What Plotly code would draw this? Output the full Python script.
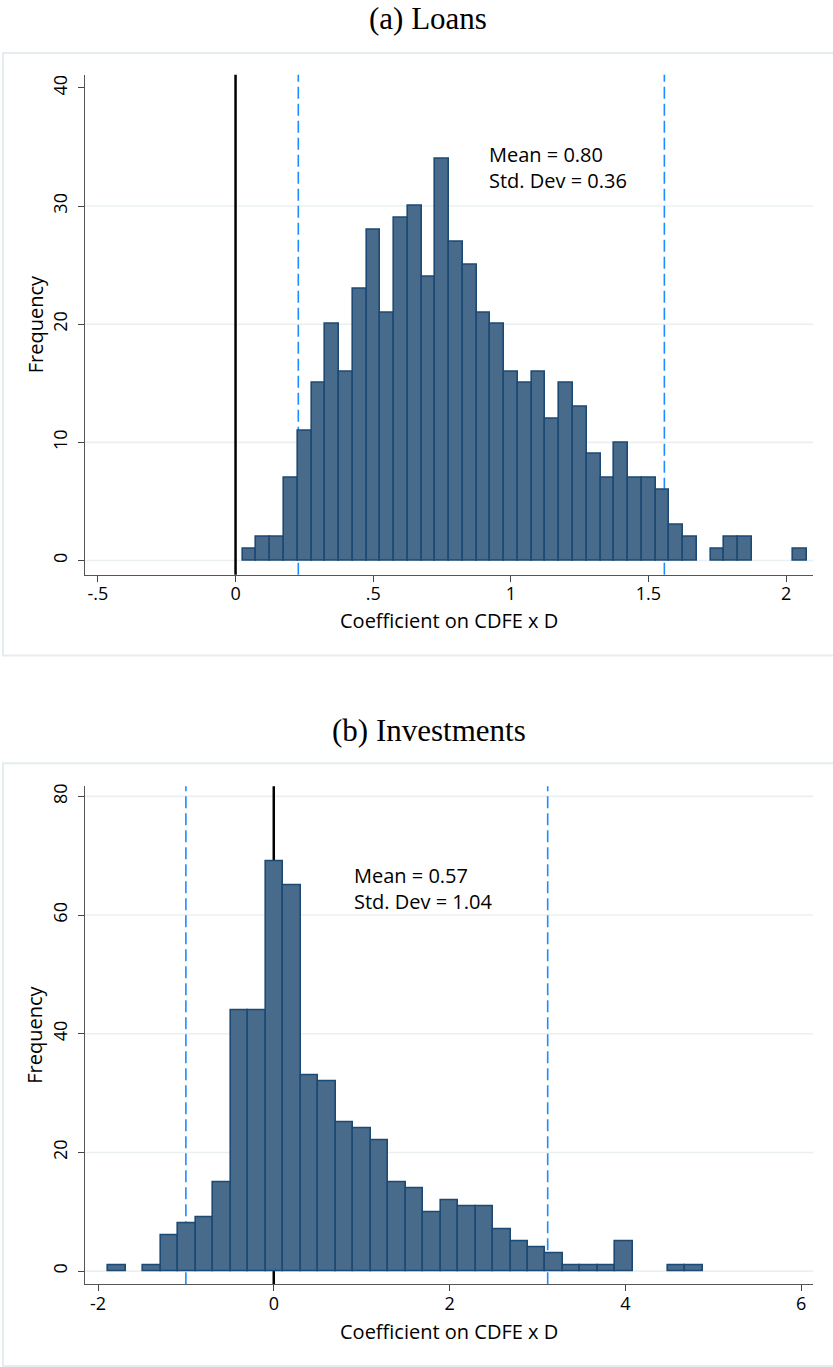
import numpy as np
import plotly.graph_objects as go

# ---- Panel (a): loans ----
loans_start = 0.026
loans_width = 0.05
loans_counts = [1, 2, 2, 7, 11, 15, 20, 16, 23, 28,
                21, 29, 30, 24, 34, 27, 25, 21, 20, 16,
                15, 16, 12, 15, 13, 9, 7, 10, 7, 7,
                6, 3, 2, 0, 1, 2, 2, 0, 0, 0, 1]
loans_lo, loans_hi = 0.228, 1.558
loans_mean, loans_sd = 0.80, 0.36
loans_xticks = [-0.5, 0, 0.5, 1, 1.5, 2]
loans_xlabels = ["-.5", "0", ".5", "1", "1.5", "2"]
loans_yticks = [0, 10, 20, 30, 40]
loans_grid = [0, 10, 20, 30]

# ---- Panel (b): investments ----
inv_start = -1.883
inv_width = 0.199
inv_counts = [1, 0, 1, 6, 8, 9, 15, 44, 44, 69,
              65, 33, 32, 25, 24, 22, 15, 14, 10, 12,
              11, 11, 7, 5, 4, 3, 1, 1, 1, 5,
              0, 0, 1, 1]
inv_lo, inv_hi = -1.0, 3.117
inv_mean, inv_sd = 0.57, 1.04
inv_xticks = [-2, 0, 2, 4, 6]
inv_xlabels = ["-2", "0", "2", "4", "6"]
inv_yticks = [0, 20, 40, 60, 80]
inv_grid = [0, 20, 40, 60, 80]

W, H = 833, 1367
SANS = "Open Sans"
SERIF = "Liberation Serif"
BAR_FILL = "#486a8b"
BAR_LINE = "#1d4a74"
DASH_BLUE = "#1e8cff"
GRID = "#eaf0f2"
FRAME = "#e6edf0"
TXT = 20
TICK = 18


def px_x(p):
    return p / W


def px_y(p):
    return 1 - p / H


def bars(start, width, counts, xa, ya):
    centers = start + width * (np.arange(len(counts)) + 0.5)
    vals = [c if c > 0 else None for c in counts]
    return go.Bar(x=centers, y=vals, width=width, xaxis=xa, yaxis=ya,
                  marker=dict(color=BAR_FILL, line=dict(color=BAR_LINE, width=1.6)),
                  showlegend=False, hoverinfo="skip")


fig = go.Figure()
fig.add_trace(bars(loans_start, loans_width, loans_counts, "x", "y"))
fig.add_trace(bars(inv_start, inv_width, inv_counts, "x2", "y2"))

axis_common = dict(showline=True, linecolor="#555555", linewidth=1.3,
                   ticks="outside", ticklen=6, tickcolor="#444444", tickwidth=1.2,
                   showgrid=False, zeroline=False,
                   tickfont=dict(family=SANS, size=TICK, color="black"))

x_dom = [px_x(85), px_x(813)]
fig.update_layout(
    width=W, height=H, margin=dict(l=0, r=0, t=0, b=0),
    paper_bgcolor="white", plot_bgcolor="white", bargap=0,
    xaxis=dict(domain=x_dom, anchor="y", range=[-0.547, 2.098],
               tickvals=loans_xticks, ticktext=loans_xlabels,
               ticklabelstandoff=-3, **axis_common),
    yaxis=dict(domain=[px_y(573), px_y(72)], anchor="x", range=[-1.2, 41.1],
               tickvals=loans_yticks, tickangle=-90, ticklabelstandoff=4,
               **axis_common),
    xaxis2=dict(domain=x_dom, anchor="y2", range=[-2.148, 6.136],
                tickvals=inv_xticks, ticktext=inv_xlabels,
                ticklabelstandoff=-3, **axis_common),
    yaxis2=dict(domain=[px_y(1284), px_y(785)], anchor="x2", range=[-2.2, 81.7],
                tickvals=inv_yticks, tickangle=-90, ticklabelstandoff=4,
                **axis_common),
)

shapes = []
# outer frames of the two panels
for top, bot in [(50, 654), (762, 1366)]:
    shapes.append(dict(type="rect", xref="paper", yref="paper",
                       x0=px_x(3), x1=1.02, y0=px_y(bot), y1=px_y(top),
                       line=dict(color=FRAME, width=2), fillcolor="rgba(0,0,0,0)",
                       layer="below"))

for xa, ya, grid, lo, hi in [("x", "y", loans_grid, loans_lo, loans_hi),
                             ("x2", "y2", inv_grid, inv_lo, inv_hi)]:
    for g in grid:
        shapes.append(dict(type="line", xref=f"{xa} domain", yref=ya,
                           x0=0, x1=1, y0=g, y1=g,
                           line=dict(color=GRID, width=1.6), layer="below"))
    shapes.append(dict(type="line", xref=xa, yref=f"{ya} domain",
                       x0=0, x1=0, y0=0, y1=1,
                       line=dict(color="black", width=2.5), layer="below"))
    for v in (lo, hi):
        shapes.append(dict(type="line", xref=xa, yref=f"{ya} domain",
                           x0=v, x1=v, y0=0, y1=1,
                           line=dict(color=DASH_BLUE, width=1.6, dash="12px,5px"),
                           layer="below"))


def paper_text(text, x, y, size, family, angle=0):
    return dict(text=text, xref="paper", yref="paper", x=px_x(x), y=px_y(y),
                showarrow=False, xanchor="center", yanchor="middle", textangle=angle,
                font=dict(family=family, size=size, color="black"))


annotations = [
    paper_text("(a) Loans", 428, 16, 31, SERIF),
    paper_text("(b) Investments", 429, 729, 31, SERIF),
    paper_text("Coefficient on CDFE x D", 449, 619, TXT, SANS),
    paper_text("Coefficient on CDFE x D", 449, 1331, TXT, SANS),
    paper_text("Frequency", 35, 322, TXT, SANS, -90),
    paper_text("Frequency", 35, 1034, TXT, SANS, -90),
    dict(text=f"Mean = {loans_mean:.2f}<br>Std. Dev = {loans_sd:.2f}",
         xref="x", yref="y", x=0.912, y=33.3, align="left",
         showarrow=False, xanchor="left", yanchor="middle",
         font=dict(family=SANS, size=TXT, color="black")),
    dict(text=f"Mean = {inv_mean:.2f}<br>Std. Dev = {inv_sd:.2f}",
         xref="x2", yref="y2", x=0.89, y=64.5, align="left",
         showarrow=False, xanchor="left", yanchor="middle",
         font=dict(family=SANS, size=TXT, color="black")),
]

fig.update_layout(shapes=shapes, annotations=annotations)
fig.write_html("out.html")
